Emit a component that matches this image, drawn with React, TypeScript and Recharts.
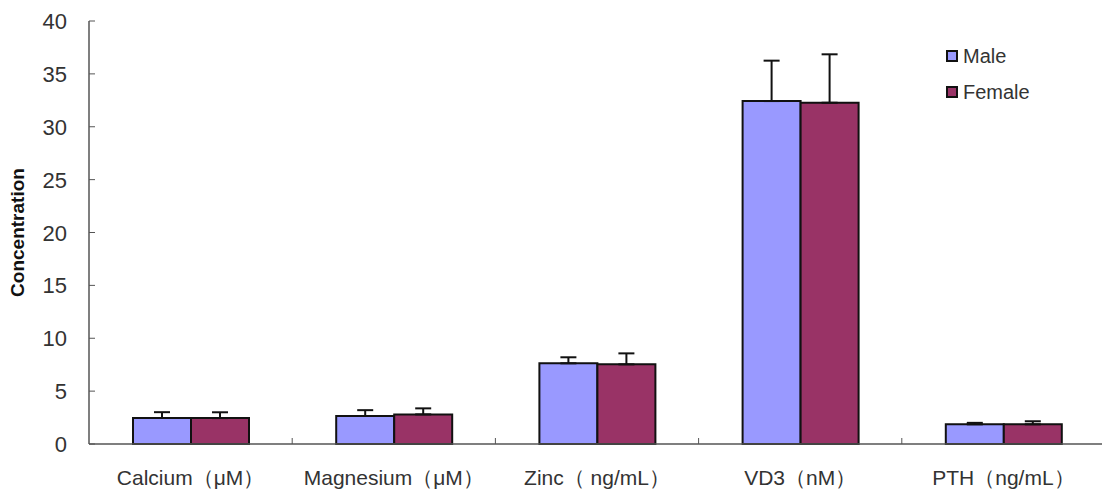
import React from 'react';
import {
  ComposedChart,
  Bar,
  XAxis,
  YAxis,
  ErrorBar,
} from 'recharts';

const categories = ['Calcium（μM）', 'Magnesium（μM）', 'Zinc（ ng/mL）', 'VD3（nM）', 'PTH（ng/mL）'];
const maleValues = [2.46, 2.65, 7.63, 32.43, 1.86];
const maleErrors = [0.55, 0.55, 0.57, 3.82, 0.14];
const femaleValues = [2.45, 2.8, 7.53, 32.27, 1.86];
const femaleErrors = [0.55, 0.57, 1.04, 4.58, 0.29];
const yTicks = [0, 5, 10, 15, 20, 25, 30, 35, 40];

const data = categories.map((name, i) => ({
  name,
  male: maleValues[i],
  maleErr: [0, maleErrors[i]],
  female: femaleValues[i],
  femaleErr: [0, femaleErrors[i]],
}));

const FONT = '"Liberation Sans", Arial, sans-serif';
const AXIS_COLOR = '#555';
const TEXT_COLOR = '#333';
const MALE = '#9999FF';
const FEMALE = '#993366';

const series = [
  { key: 'male', name: 'Male', color: MALE },
  { key: 'female', name: 'Female', color: FEMALE },
];

const CHART_W = 1105;
const CHART_H = 490;
const MARGIN = { top: 21, right: 0, bottom: 0, left: 0 };
const X_AXIS_H = 46;
const Y_AXIS_W = 89;
const BAND = (CHART_W - Y_AXIS_W - MARGIN.right) / categories.length;

function YTick(props: any) {
  const { x, y, payload } = props;
  return (
    <g>
      <line x1={Y_AXIS_W} x2={Y_AXIS_W + 6} y1={y} y2={y} stroke={AXIS_COLOR} strokeWidth={1} />
      <text x={x} y={y} dy={8} textAnchor="end" fontSize={22} fill={TEXT_COLOR} fontFamily={FONT}>
        {payload.value}
      </text>
    </g>
  );
}

function XTick(props: any) {
  const { x, payload, index } = props;
  const axisY = CHART_H - MARGIN.bottom - X_AXIS_H;
  return (
    <g>
      {index > 0 && (
        <line x1={x - BAND / 2} x2={x - BAND / 2} y1={axisY} y2={axisY - 6} stroke={AXIS_COLOR} strokeWidth={1} />
      )}
      <text x={x} y={axisY} dy={41} textAnchor="middle" fontSize={21} fill={TEXT_COLOR} fontFamily={FONT}>
        {payload.value}
      </text>
    </g>
  );
}

function LegendBox() {
  return (
    <div
      style={{
        position: 'absolute',
        left: 946,
        top: 38,
        fontFamily: FONT,
        fontSize: 20,
        color: TEXT_COLOR,
      }}
    >
      {series.map((s) => (
        <div key={s.key} style={{ display: 'flex', alignItems: 'center', height: 36 }}>
          <span
            style={{
              display: 'inline-block',
              boxSizing: 'border-box',
              width: 12,
              height: 12,
              background: s.color,
              border: '2px solid #111',
              marginRight: 5,
            }}
          />
          {s.name}
        </div>
      ))}
    </div>
  );
}

export default function App() {
  return (
    <div style={{ position: 'absolute', left: 0, top: 0, width: 1102, height: 490, overflow: 'hidden', background: '#fff' }}>
      <ComposedChart
        width={CHART_W}
        height={CHART_H}
        data={data}
        margin={MARGIN}
        barGap={0}
        barSize={58}
      >
        <XAxis
          dataKey="name"
          height={X_AXIS_H}
          axisLine={{ stroke: AXIS_COLOR, strokeWidth: 1.5 }}
          tickLine={false}
          tick={<XTick />}
          interval={0}
        />
        <YAxis
          width={Y_AXIS_W}
          domain={[0, 40]}
          ticks={yTicks}
          interval={0}
          axisLine={{ stroke: AXIS_COLOR, strokeWidth: 1.5 }}
          tickLine={false}
          tickSize={0}
          tickMargin={22}
          tick={<YTick />}
          label={{
            value: 'Concentration',
            angle: -90,
            position: 'insideLeft',
            dx: 12,
            dy: 0,
            style: { fontFamily: FONT, fontSize: 19, fontWeight: 'bold', fill: '#111', textAnchor: 'middle' },
          }}
        />
        {series.map((s) => (
          <Bar
            key={s.key}
            dataKey={s.key}
            name={s.name}
            fill={s.color}
            stroke="#111"
            strokeWidth={2}
            isAnimationActive={false}
          >
            <ErrorBar dataKey={`${s.key}Err`} width={8} stroke="#111" strokeWidth={2} direction="y" />
          </Bar>
        ))}
      </ComposedChart>
      <LegendBox />
    </div>
  );
}
